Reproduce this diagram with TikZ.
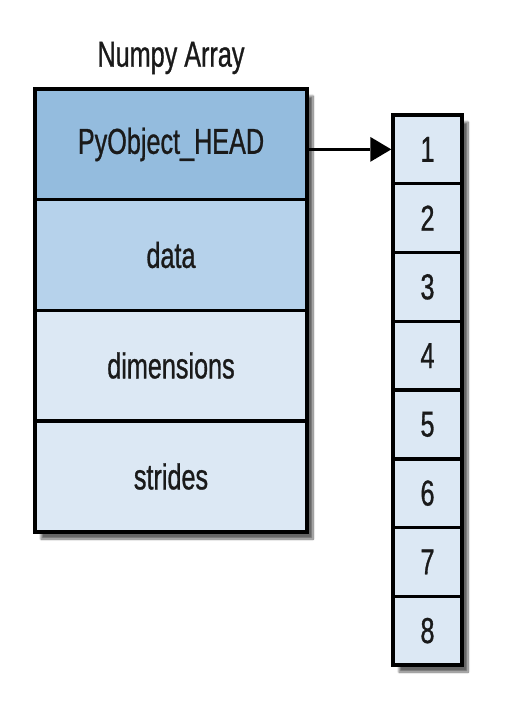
\documentclass[tikz,border=0pt]{standalone}
\usepackage{fontspec}
\setmainfont{Liberation Sans}[FakeStretch=0.7,FakeBold=0.8]
\usetikzlibrary{arrows.meta,shadows.blur}
\definecolor{headc}{RGB}{148,188,222}
\definecolor{datac}{RGB}{182,210,235}
\definecolor{lightc}{RGB}{220,232,244}
\definecolor{txt}{RGB}{26,26,26}
\tikzset{
  row/.style={draw=black, line width=3.5pt, minimum width=272pt, minimum height=110.5pt,
    inner sep=0pt, text=txt, font=\fontsize{36}{40}\selectfont},
  cell/.style={draw=black, line width=3.5pt, minimum width=69pt, minimum height=68.75pt,
    inner sep=0pt, fill=lightc, text=txt, font=\fontsize{36}{40}\selectfont},
  shadowbox/.style={fill=white, draw=none, blur shadow={shadow xshift=6pt, shadow yshift=-7pt, shadow blur steps=10, shadow opacity=60}},
  ptr/.style={draw=black, line width=3pt, -{Triangle[length=21pt,width=25pt,line width=0pt,fill=black]}}
}
\begin{document}
\begin{tikzpicture}[x=1pt,y=-1pt]
\useasboundingbox (0,0) rectangle (505,727);
% shadows
\fill[shadowbox] (35,89) rectangle (307,532);
\fill[shadowbox] (393,115) rectangle (462,665);
% title
\node[text=txt, font=\fontsize{36}{40}\selectfont] (title) at (171,58) {Numpy Array};
% left rows
\node[row, fill=headc] (head) at (171,144.5) {PyObject\_HEAD};
\node[row, fill=datac] (data) at (171,255) {data};
\node[row, fill=lightc] (dims) at (171,365.5) {dimensions};
\node[row, fill=lightc] (strides) at (171,476.5) {strides};
% right cells
\foreach \i in {1,...,8} {
  \node[cell] (c\i) at (427.5,{115+68.75*(\i-0.5)}) {\i};
}
\draw[ptr] (head.east |- c1.west) -- (c1.west);
\end{tikzpicture}
\end{document}
